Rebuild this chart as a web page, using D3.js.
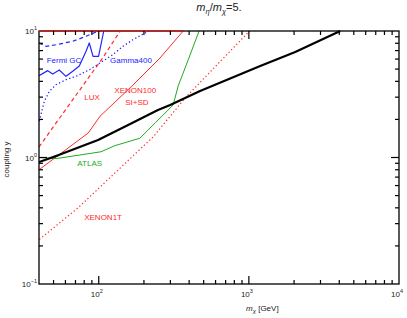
<!DOCTYPE html>
<html>
<head>
<meta charset="utf-8">
<script src="https://cdn.jsdelivr.net/npm/d3@7"></script>
<style>
	body { margin: 0; background: #fff; }
	text { font-family: "Liberation Sans", Arial, Helvetica, sans-serif; }
</style>
</head>
<body>
<script>
// m_chi [GeV] and coupling y
const thermalMass = [40, 53.5, 99, 157, 248, 299, 473, 1190, 2036, 4060];
const thermalY = [0.92, 1.04, 1.375, 1.81, 2.37, 2.6, 3.36, 5.29, 6.82, 10];

const atlasMass = [40, 52, 103.5, 128, 188, 240, 313, 338, 394, 466];
const atlasY = [1.0, 0.98, 1.11, 1.24, 1.42, 1.9, 2.6, 3.67, 5.9, 10];

const xenon100Mass = [40, 85, 102, 169, 256, 365, 40];
const xenon100Y = [0.8, 1.56, 2.12, 3.74, 6.12, 10, 10];

const luxMass = [40, 49, 105, 139];
const luxY = [1.21, 1.7, 6.0, 10];

const xenon1tMass = [40.2, 72.8, 231, 376, 1010];
const xenon1tY = [0.225, 0.4, 1.46, 2.95, 10];

const fermiMass = [40, 45.7, 49.4, 54.6, 60.5, 67.1, 74.2, 82.3, 86.5, 91.6, 99.7, 108];
const fermiY = [4.43, 4.86, 4.57, 4.92, 4.38, 4.8, 5.28, 6.91, 8.04, 6.31, 6.31, 10];

const fermiUpMass = [40, 44.5, 51.9, 67.1, 82.3, 99.5];
const fermiUpY = [8.04, 7.57, 7.79, 8.29, 9.08, 10];

const gammaMass = [40.2, 43.4, 46.9, 51.9, 60.5, 70.6, 86.6, 106, 124, 145, 169, 216];
const gammaY = [1.94, 2.78, 3.34, 3.76, 4.12, 4.38, 4.94, 5.76, 6.5, 7.57, 8.54, 10];

const xMajor = [100, 1000, 10000];
const yMajor = [0.1, 1, 10];

const width = 407, height = 318;
const margins = {left: 39, right: 8, top: 31, bottom: 34};

let svg = d3.select('body')
	.append('svg')
	.attr('width', width)
	.attr('height', height);

let scaleX = d3.scaleLog().domain([40, 10000]).range([margins.left, width - margins.right]);
let scaleY = d3.scaleLog().domain([0.1, 10]).range([height - margins.bottom, margins.top]);

let x0 = scaleX.range()[0], x1 = scaleX.range()[1];
let y0 = scaleY.range()[0], y1 = scaleY.range()[1];

svg.append('defs')
	.append('clipPath')
	.attr('id', 'plot-clip')
	.append('rect')
	.attr('x', x0)
	.attr('y', y1 - 1)
	.attr('width', x1 - x0)
	.attr('height', y0 - y1 + 1);

// curves
let body = svg.append('g').attr('clip-path', 'url(#plot-clip)');
let line = d3.line()
	.x(d => scaleX(d[0]))
	.y(d => scaleY(d[1]));

const curves = [
	{m: xenon1tMass, y: xenon1tY, color: '#ff2a2a', w: 1.2, dash: '1.3,2.4'},
	{m: xenon100Mass, y: xenon100Y, color: '#ff2a2a', w: 1, dash: null},
	{m: luxMass, y: luxY, color: '#ff2a2a', w: 1.2, dash: '4,3'},
	{m: gammaMass, y: gammaY, color: '#2424ff', w: 1.3, dash: '1.3,2.4'},
	{m: fermiUpMass, y: fermiUpY, color: '#2424ff', w: 1.2, dash: '4,3'},
	{m: fermiMass, y: fermiY, color: '#2424ff', w: 1.2, dash: null},
	{m: atlasMass, y: atlasY, color: '#22aa22', w: 1, dash: null},
	{m: thermalMass, y: thermalY, color: '#000', w: 2.2, dash: null}
];

body.selectAll('path.curve')
	.data(curves)
	.enter()
	.append('path')
	.attr('class', 'curve')
	.attr('d', d => line(d.m.map((v, i) => [v, d.y[i]])))
	.attr('fill', 'none')
	.attr('stroke', d => d.color)
	.attr('stroke-width', d => d.w)
	.attr('stroke-dasharray', d => d.dash)
	.attr('stroke-linejoin', 'round');

// frame
svg.append('rect')
	.attr('x', x0).attr('y', y1)
	.attr('width', x1 - x0).attr('height', y0 - y1)
	.attr('fill', 'none')
	.attr('stroke', '#000')
	.attr('stroke-width', 1.3);

// the red contour runs along the top edge
svg.append('line')
	.attr('x1', scaleX(xenon100Mass[6])).attr('x2', scaleX(xenon100Mass[5]))
	.attr('y1', scaleY(10)).attr('y2', scaleY(10))
	.attr('stroke', '#ff2a2a')
	.attr('stroke-width', 1);

// inward ticks, drawn as small filled rects
let xTicks = scaleX.ticks().filter(v => v > 40 && v < 10000);
let yTicks = scaleY.ticks().filter(v => v > 0.1 && v < 10);
let isMajor = v => Math.abs(Math.log10(v) - Math.round(Math.log10(v))) < 1e-6;

let tickRects = [];
xTicks.forEach(v => {
	let len = isMajor(v) ? 8 : 4;
	let px = scaleX(v);
	tickRects.push({x: px - 0.6, y: y0 - len, w: 1.2, h: len});
	tickRects.push({x: px - 0.6, y: y1, w: 1.2, h: len});
});
yTicks.forEach(v => {
	let len = isMajor(v) ? 8 : 4;
	let py = scaleY(v);
	tickRects.push({x: x0, y: py - 0.6, w: len, h: 1.2});
	tickRects.push({x: x1 - len, y: py - 0.6, w: len, h: 1.2});
});

svg.append('g')
	.attr('class', 'ticks')
	.selectAll('rect')
	.data(tickRects)
	.enter()
	.append('rect')
	.attr('x', d => d.x)
	.attr('y', d => d.y)
	.attr('width', d => d.w)
	.attr('height', d => d.h)
	.attr('fill', '#000');

// tick labels 10^n
let powLabel = (sel, v) => {
	sel.append('tspan').text('10');
	sel.append('tspan')
		.attr('dy', -4)
		.style('font-size', '5.5px')
		.text(String(Math.round(Math.log10(v))).replace('-', '\u2212'));
};

xMajor.forEach(v => {
	let t = svg.append('text')
		.attr('x', scaleX(v) - 2)
		.attr('y', y0 + 13)
		.attr('text-anchor', 'middle')
		.attr('fill', '#222')
		.style('font-size', '8px');
	powLabel(t, v);
});

yMajor.forEach(v => {
	let t = svg.append('text')
		.attr('x', x0 - 2)
		.attr('y', scaleY(v) + 3)
		.attr('text-anchor', 'end')
		.attr('fill', '#222')
		.style('font-size', '8px');
	powLabel(t, v);
});

// axis titles
let xt = svg.append('text')
	.attr('x', 246)
	.attr('y', y0 + 27)
	.attr('fill', '#222')
	.style('font-size', '8px');
xt.append('tspan').style('font-style', 'italic').text('m');
xt.append('tspan').attr('dy', 2).style('font-size', '6px').style('font-style', 'italic').text('\u03c7');
xt.append('tspan').attr('dy', -2).text(' [GeV]');

svg.append('text')
	.attr('transform', `translate(9, ${(y0 + y1) / 2 + 2}) rotate(-90)`)
	.attr('text-anchor', 'middle')
	.attr('fill', '#222')
	.style('font-size', '8px')
	.text('coupling y');

let title = svg.append('text')
	.attr('x', (x0 + x1) / 2)
	.attr('y', 11)
	.attr('text-anchor', 'middle')
	.attr('fill', '#222')
	.style('font-size', '11px');
title.append('tspan').style('font-style', 'italic').text('m');
title.append('tspan').attr('dy', 3).style('font-size', '7.5px').style('font-style', 'italic').text('\u03b7');
title.append('tspan').attr('dy', -3).text('/');
title.append('tspan').style('font-style', 'italic').text('m');
title.append('tspan').attr('dy', 3).style('font-size', '7.5px').style('font-style', 'italic').text('\u03c7');
title.append('tspan').attr('dy', -3).text('=5.');

// curve labels
const labels = [
	{text: 'Fermi GC', m: 45, y: 5.6, color: '#2424ff'},
	{text: 'Gamma400', m: 119, y: 5.6, color: '#2424ff'},
	{text: 'LUX', m: 80, y: 2.85, color: '#ff2a2a'},
	{text: 'XENON100', m: 127, y: 3.26, color: '#ff2a2a'},
	{text: 'SI+SD', m: 150, y: 2.6, color: '#ff2a2a'},
	{text: 'ATLAS', m: 72, y: 0.86, color: '#22aa22'},
	{text: 'XENON1T', m: 80, y: 0.323, color: '#ff2a2a'}
];

svg.selectAll('text.curve-label')
	.data(labels)
	.enter()
	.append('text')
	.attr('class', 'curve-label')
	.attr('x', d => scaleX(d.m))
	.attr('y', d => scaleY(d.y))
	.attr('fill', d => d.color)
	.style('font-size', '8px')
	.text(d => d.text);
</script>
</body>
</html>
